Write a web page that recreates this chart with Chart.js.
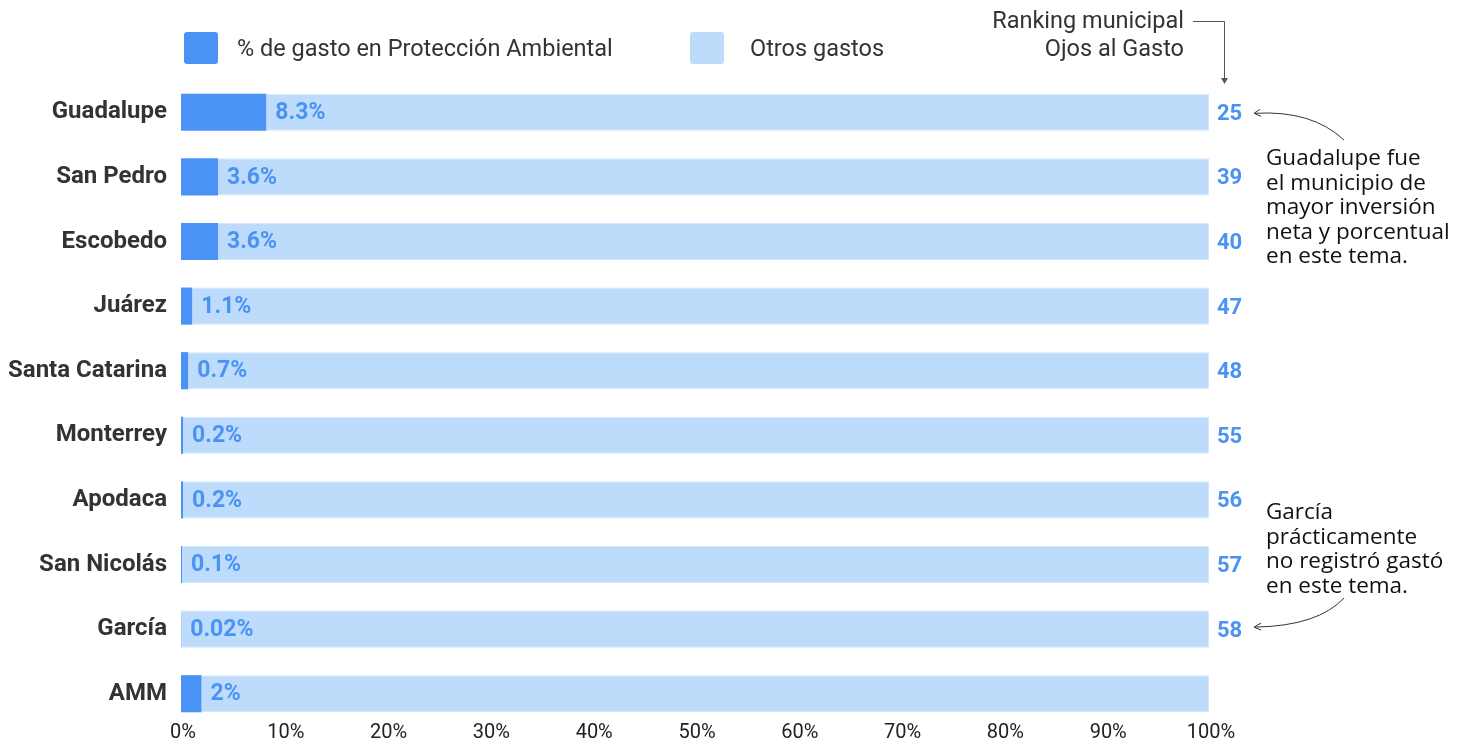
<!DOCTYPE html>
<html>
<head>
<meta charset="utf-8">
<script src="https://cdn.jsdelivr.net/npm/chart.js@4"></script>
<style>
  body { margin: 0; background: #fff; }
  #wrap { position: relative; width: 1470px; height: 744px; font-family: Roboto, "Noto Sans", sans-serif; }
  #wrap canvas { position: absolute; left: 0; top: 0; }
  .txt { position: absolute; color: #333; font-size: 23.5px; white-space: nowrap; }
  .box { position: absolute; width: 34px; height: 32px; border-radius: 3px; }
  .note { position: absolute; color: #111; font-family: "Open Sans", Roboto, sans-serif; font-size: 22.5px; line-height: 24.5px; white-space: nowrap; }
</style>
</head>
<body>
<div id="wrap">
  <canvas id="chart" width="1470" height="744"></canvas>
  <div class="box" style="left:184px; top:32px; background:#4a93f4;"></div>
  <div class="txt" style="left:237px; top:34px;">% de gasto en Protección Ambiental</div>
  <div class="box" style="left:690px; top:32px; background:#bddbfb;"></div>
  <div class="txt" style="left:750px; top:34px;">Otros gastos</div>
  <div class="txt" style="right:286px; top:6px; text-align:right; line-height:28px;">Ranking municipal<br>Ojos al Gasto</div>
  <div class="note" style="left:1266px; top:145px;">Guadalupe fue<br>el municipio de<br>mayor inversión<br>neta y porcentual<br>en este tema.</div>
  <div class="note" style="left:1266px; top:499px;">García<br>prácticamente<br>no registró gastó<br>en este tema.</div>
</div>
<script>
const municipios = ['Guadalupe', 'San Pedro', 'Escobedo', 'Juárez', 'Santa Catarina', 'Monterrey', 'Apodaca', 'San Nicolás', 'García', 'AMM'];
const gastoAmbiental = [8.3, 3.6, 3.6, 1.1, 0.7, 0.2, 0.2, 0.1, 0.02, 2];
const otrosGastos = [91.7, 96.4, 96.4, 98.9, 99.3, 99.8, 99.8, 99.9, 99.98, 98];
const ranking = [25, 39, 40, 47, 48, 55, 56, 57, 58, null];

const azul = '#4a93f4';
const azulClaro = '#bddbfb';

// etiquetas de porcentaje, ranking y eje x
const labelsPlugin = {
  id: 'labelsPlugin',
  afterDatasetsDraw(chart) {
    const ctx = chart.ctx;
    const meta = chart.getDatasetMeta(0);
    const area = chart.chartArea;
    ctx.save();
    ctx.fillStyle = azul;
    ctx.textBaseline = 'middle';
    ctx.textAlign = 'left';
    meta.data.forEach((bar, i) => {
      ctx.font = 'bold 23px Roboto, "Noto Sans", sans-serif';
      ctx.fillText(gastoAmbiental[i] + '%', Math.max(bar.x + 9, 187), bar.y + 1);
      if (ranking[i] !== null) {
        ctx.font = 'bold 22px Roboto, "Noto Sans", sans-serif';
        ctx.fillText(String(ranking[i]), area.right + 8, bar.y + 2);
      }
    });
    // ticks del eje x
    const x = chart.scales.x;
    ctx.font = '20px Roboto, "Noto Sans", sans-serif';
    ctx.fillStyle = '#222';
    ctx.textAlign = 'center';
    x.ticks.forEach((t) => {
      ctx.fillText(t.value + '%', x.getPixelForValue(t.value) + 2, 733);
    });
    ctx.restore();
  },
  afterDraw(chart) {
    const ctx = chart.ctx;
    const y = chart.scales.y;
    const y0 = y.getPixelForValue(0);
    const y8 = y.getPixelForValue(8);
    ctx.save();
    ctx.strokeStyle = '#555';
    ctx.fillStyle = '#555';
    ctx.lineWidth = 1;
    // conector del encabezado
    ctx.beginPath();
    ctx.moveTo(1193, 21.5);
    ctx.lineTo(1224.5, 21.5);
    ctx.lineTo(1224.5, 80);
    ctx.stroke();
    ctx.beginPath();
    ctx.moveTo(1221, 78);
    ctx.lineTo(1228, 78);
    ctx.lineTo(1224.5, 84);
    ctx.closePath();
    ctx.fill();
    // flechas curvas
    ctx.strokeStyle = '#333';
    ctx.beginPath();
    ctx.moveTo(1344, 140);
    ctx.quadraticCurveTo(1312, 110, 1255, y0 + 1);
    ctx.stroke();
    ctx.beginPath();
    ctx.moveTo(1260, y0 - 3);
    ctx.lineTo(1254, y0 + 1);
    ctx.lineTo(1261, y0 + 4);
    ctx.stroke();
    ctx.beginPath();
    ctx.moveTo(1344, 598);
    ctx.quadraticCurveTo(1318, 626, 1255, y8 - 2);
    ctx.stroke();
    ctx.beginPath();
    ctx.moveTo(1261, y8 - 6);
    ctx.lineTo(1254, y8 - 2);
    ctx.lineTo(1261, y8 + 1);
    ctx.stroke();
    ctx.restore();
  }
};

new Chart(document.getElementById('chart'), {
  type: 'bar',
  data: {
    labels: municipios,
    datasets: [
      {
        label: '% de gasto en Protección Ambiental',
        data: gastoAmbiental,
        backgroundColor: azul,
        barPercentage: 0.575,
        categoryPercentage: 1,
      },
      {
        label: 'Otros gastos',
        data: otrosGastos,
        backgroundColor: azulClaro,
        borderColor: '#d4e7fd',
        borderWidth: 1,
        borderSkipped: 'left',
        barPercentage: 0.575,
        categoryPercentage: 1,
      },
    ],
  },
  options: {
    indexAxis: 'y',
    responsive: false,
    devicePixelRatio: 1,
    animation: false,
    layout: {
      padding: { top: 80, right: 261, bottom: 0, left: 0 },
    },
    plugins: {
      legend: { display: false },
      tooltip: { enabled: false },
    },
    scales: {
      x: {
        stacked: true,
        min: 0,
        max: 100,
        grid: { display: false, drawTicks: false },
        border: { display: false },
        afterFit: (scale) => { scale.height = 18; },
        ticks: { stepSize: 10, display: false },
      },
      y: {
        stacked: true,
        grid: { display: false, drawTicks: false },
        border: { display: false },
        afterFit: (scale) => {
          scale.width = 181;
          scale.paddingTop = 0;
          scale.paddingBottom = 0;
        },
        ticks: {
          padding: 14,
          color: '#333',
          font: { family: 'Roboto, "Noto Sans", sans-serif', size: 24, weight: 'bold' },
        },
      },
    },
  },
  plugins: [labelsPlugin],
});
</script>
</body>
</html>
